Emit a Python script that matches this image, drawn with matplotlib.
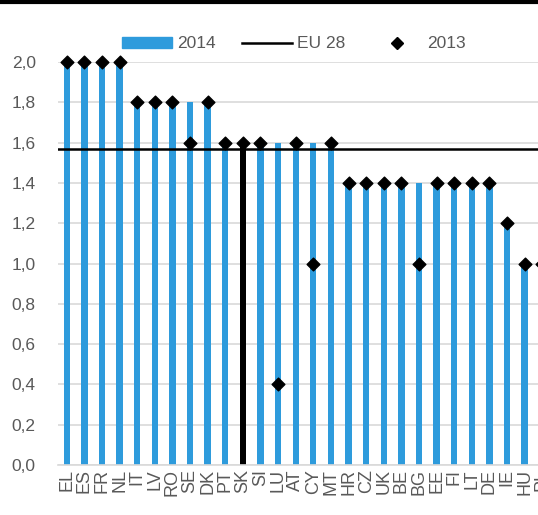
import matplotlib
matplotlib.use("Agg")
import matplotlib.pyplot as plt
from matplotlib import font_manager
from matplotlib.lines import Line2D
from matplotlib.patches import Patch

# ── Data ─────────────────────────────────────────────────────────────────────
countries = ["EL", "ES", "FR", "NL", "IT", "LV", "RO", "SE", "DK", "PT",
             "SK", "SI", "LU", "AT", "CY", "MT", "HR", "CZ", "UK", "BE",
             "BG", "EE", "FI", "LT", "DE", "IE", "HU", "PL"]
val_2014 = [2.0, 2.0, 2.0, 2.0, 1.8, 1.8, 1.8, 1.8, 1.8, 1.6,
            1.6, 1.6, 1.6, 1.6, 1.6, 1.6, 1.4, 1.4, 1.4, 1.4,
            1.4, 1.4, 1.4, 1.4, 1.4, 1.2, 1.0, 1.0]
val_2013 = [2.0, 2.0, 2.0, 2.0, 1.8, 1.8, 1.8, 1.6, 1.8, 1.6,
            1.6, 1.6, 0.4, 1.6, 1.0, 1.6, 1.4, 1.4, 1.4, 1.4,
            1.0, 1.4, 1.4, 1.4, 1.4, 1.2, 1.0, 1.0]
eu28 = 1.57
highlight = "SK"
yticks = [0.0, 0.2, 0.4, 0.6, 0.8, 1.0, 1.2, 1.4, 1.6, 1.8, 2.0]

# ── Style ────────────────────────────────────────────────────────────────────
names = {f.name for f in font_manager.fontManager.ttflist}
base = "Liberation Sans Narrow" if "Liberation Sans Narrow" in names else "Liberation Sans"
plt.rcParams["font.family"] = [base, "DejaVu Sans"]
BLUE = "#2E9BDC"
GREY_TXT = "#595959"
FS = 14.5 if base == "Liberation Sans Narrow" else 12.5

W, H = 538, 515
fig = plt.figure(figsize=(W / 100, H / 100), dpi=100)
# axes runs past the right edge: the original image is cropped there
left, right_px, top_px, bot_px = 58, 551, 62, 465
ax = fig.add_axes([left / W, 1 - bot_px / H, (right_px - left) / W, (bot_px - top_px) / H])

x = list(range(len(countries)))
colors = ["black" if c == highlight else BLUE for c in countries]
ax.bar(x, val_2014, width=0.36, color=colors, zorder=2)
ax.axhline(eu28, color="black", lw=1.8, zorder=3)
ax.scatter(x, val_2013, marker="D", s=42, color="black", zorder=4, clip_on=False)

ax.set_xlim(-0.5, len(countries) - 0.5)
ax.set_ylim(0, 2.0)
ax.set_yticks(yticks)
ax.set_yticklabels([f"{v:.1f}".replace(".", ",") for v in yticks])
ax.set_xticks(x)
ax.set_xticklabels(countries, rotation=90)
ax.tick_params(axis="both", length=0, labelsize=FS, colors=GREY_TXT)
ax.tick_params(axis="x", labelsize=FS + 0.5)
ax.tick_params(axis="y", pad=16)
ax.tick_params(axis="x", pad=3)
ax.grid(axis="y", color="#D9D9D9", lw=1.2, zorder=0)
ax.set_axisbelow(True)
for s in ["left", "right", "top"]:
    ax.spines[s].set_visible(False)
ax.spines["bottom"].set_color("#D9D9D9")
ax.spines["bottom"].set_linewidth(1.2)

handles = [Patch(color=BLUE),
           Line2D([], [], color="black", lw=1.8),
           Line2D([], [], marker="D", ls="none", color="black", markersize=6)]
leg = fig.legend(handles, ["2014", "EU 28", "2013"], ncol=3, frameon=False,
                 loc="center left", bbox_to_anchor=(106 / W, 1 - 44 / H),
                 fontsize=FS, handlelength=2.9, handleheight=0.6,
                 columnspacing=1.5, handletextpad=0.3, labelcolor=GREY_TXT)

# black rule at the top edge of the crop
fig.add_artist(Line2D([0, 1], [1 - 2 / H, 1 - 2 / H], color="black", lw=3))

fig.savefig("out.png", dpi=100)
